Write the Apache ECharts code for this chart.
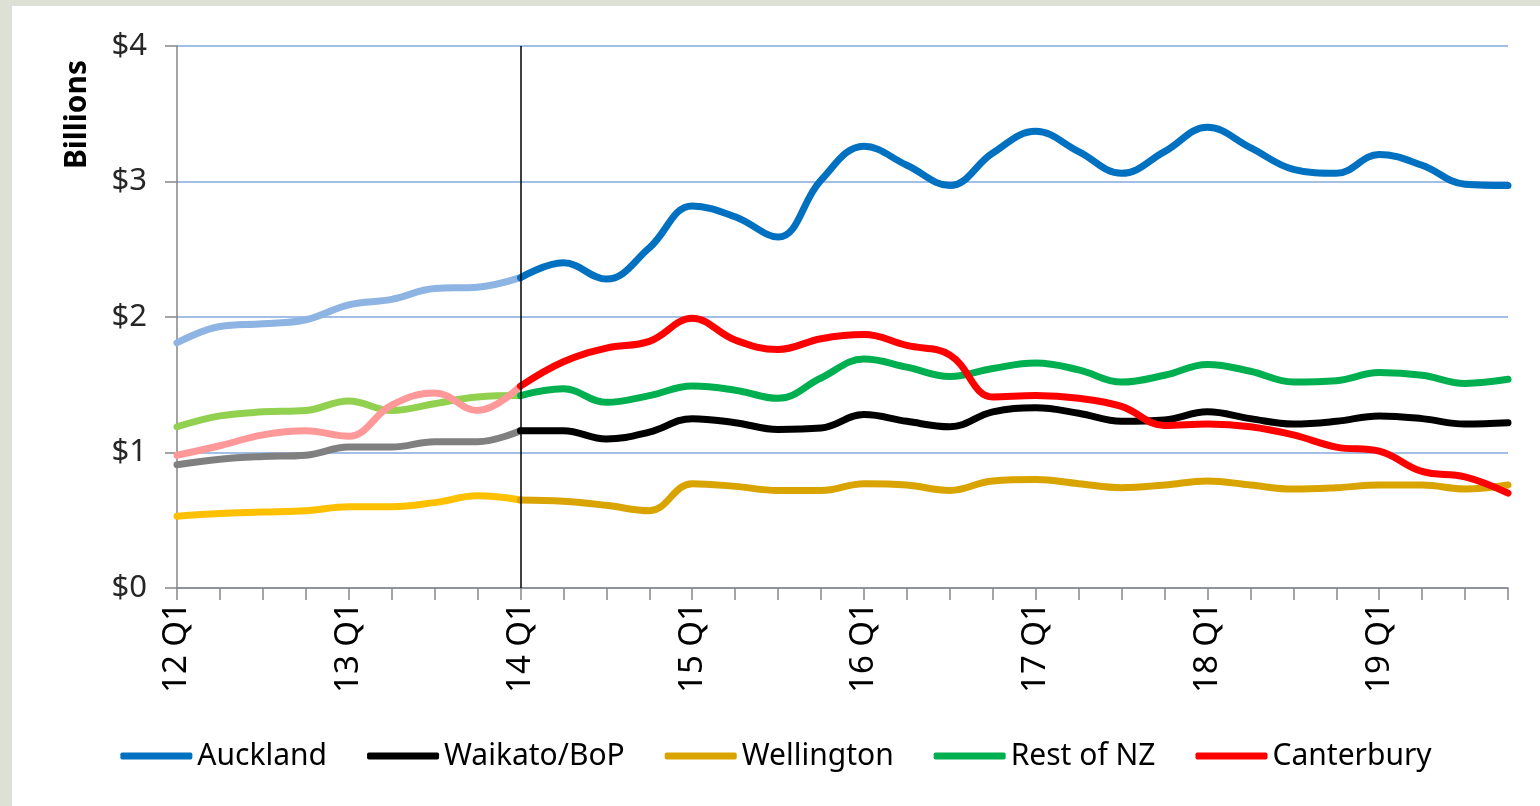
<!DOCTYPE html>
<html lang="en" style="height:100%">
  <head>
    <meta http-equiv="Content-Type" content="text/html; charset=utf-8">
    <title>regional chart</title>
    <script type="text/javascript" src="https://cdn.jsdelivr.net/npm/echarts@6/dist/echarts.min.js"></script>
    <style>
      html, body { margin:0; padding:0; height:100%; background:#dde0d4; overflow:hidden; }
      #chart { position:absolute; left:12px; top:6px; width:1528px; height:800px; background:#ffffff; }
    </style>
  </head>
  <body>
    <div id="chart"></div>
    <script type="text/javascript">
      //quarters on the x axis
      var quarters = ['12 Q1','12 Q2','12 Q3','12 Q4','13 Q1','13 Q2','13 Q3','13 Q4',
                      '14 Q1','14 Q2','14 Q3','14 Q4','15 Q1','15 Q2','15 Q3','15 Q4',
                      '16 Q1','16 Q2','16 Q3','16 Q4','17 Q1','17 Q2','17 Q3','17 Q4',
                      '18 Q1','18 Q2','18 Q3','18 Q4','19 Q1','19 Q2','19 Q3','19 Q4'];

      //values in billions
      var auckland   = [1.81,1.93,1.95,1.98,2.09,2.13,2.21,2.22,2.29,2.40,2.28,2.51,2.82,2.74,2.59,3.01,
                        3.26,3.12,2.97,3.21,3.37,3.22,3.06,3.22,3.40,3.25,3.09,3.06,3.20,3.12,2.98,2.97];
      var waikato    = [0.91,0.95,0.97,0.98,1.04,1.04,1.08,1.08,1.16,1.16,1.10,1.15,1.25,1.22,1.17,1.18,
                        1.28,1.23,1.19,1.30,1.33,1.29,1.23,1.24,1.30,1.25,1.21,1.23,1.27,1.25,1.21,1.22];
      var wellington = [0.53,0.55,0.56,0.57,0.60,0.60,0.63,0.68,0.65,0.64,0.61,0.57,0.77,0.75,0.72,0.72,
                        0.77,0.76,0.72,0.79,0.80,0.77,0.74,0.76,0.79,0.76,0.73,0.74,0.76,0.76,0.73,0.76];
      var restOfNZ   = [1.19,1.27,1.30,1.31,1.38,1.31,1.36,1.41,1.42,1.47,1.37,1.42,1.49,1.46,1.40,1.55,
                        1.69,1.63,1.56,1.62,1.66,1.61,1.52,1.57,1.65,1.60,1.52,1.53,1.59,1.57,1.51,1.54];
      var canterbury = [0.98,1.05,1.13,1.16,1.12,1.35,1.44,1.31,1.49,1.67,1.77,1.82,1.99,1.83,1.76,1.84,
                        1.87,1.79,1.72,1.41,1.42,1.40,1.34,1.20,1.21,1.19,1.13,1.04,1.01,0.86,0.82,0.70];

      var yTicks = ['$0','$1','$2','$3','$4'];
      var names = ['Auckland','Waikato/BoP','Wellington','Rest of NZ','Canterbury'];
      var values = [auckland, waikato, wellington, restOfNZ, canterbury];
      var COLORS = ['#0070c0','#000000','#d9a400','#00b050','#ff0000'];
      var FADED  = ['#8db4e2','#808080','#ffc000','#92d050','#ff9999'];

      //split point: history is faded up to 14 Q1
      var SPLIT = quarters.indexOf('14 Q1');
      var FONT = '"Noto Sans", sans-serif';

      var series = [];
      for(var i = 0; i < names.length; i++){
        var early = [], late = [];
        for(var j = 0; j < quarters.length; j++){
          early.push(j <= SPLIT ? values[i][j] : null);
          late.push(j >= SPLIT ? values[i][j] : null);
        }
        series.push({
          name: names[i] + ' (history)',
          type: 'line', smooth: 0.4, showSymbol: false, silent: true,
          data: early,
          lineStyle: { color: FADED[i], width: 7, cap: 'round' },
          itemStyle: { color: FADED[i] }
        });
        var s = {
          name: names[i],
          type: 'line', smooth: 0.4, showSymbol: false,
          data: late,
          lineStyle: { color: COLORS[i], width: 7, cap: 'round' },
          itemStyle: { color: COLORS[i] }
        };
        if(i === 0){
          s.markLine = {
            silent: true, symbol: 'none', label: { show: false },
            lineStyle: { color: '#000000', width: 1.5, type: 'solid' },
            data: [{ xAxis: SPLIT }]
          };
        }
        series.push(s);
      }

      var myChart = echarts.init(document.getElementById('chart'));
      var option = {
        animation: false,
        grid: { left: 165, right: 32, top: 40, bottom: 218 },
        legend: {
          data: names,
          bottom: 30, left: 'center',
          icon: 'roundRect', itemWidth: 72, itemHeight: 7, itemGap: 40,
          textStyle: { fontFamily: FONT, fontSize: 30, color: '#000000', padding: [0,0,0,0] }
        },
        graphic: [{
          type: 'text', left: 50, top: 54, rotation: Math.PI / 2,
          style: { text: 'Billions', font: 'bold 30px "Noto Sans", sans-serif', fill: '#000000' }
        }],
        xAxis: {
          type: 'category', data: quarters, boundaryGap: false,
          axisLine: { lineStyle: { color: '#868686', width: 1.5 } },
          axisTick: { show: true, interval: 0, length: 12, lineStyle: { color: '#868686', width: 1.5 } },
          axisLabel: { interval: 3, rotate: 90, margin: 14, fontFamily: FONT, fontSize: 33, color: '#000000' },
          splitLine: { show: false }
        },
        yAxis: {
          type: 'value', min: 0, max: 4, interval: 1,
          axisLine: { show: true, lineStyle: { color: '#868686', width: 1.5 } },
          axisTick: { show: true, length: 12, lineStyle: { color: '#868686', width: 1.5 } },
          axisLabel: { margin: 30, fontFamily: FONT, fontSize: 31, color: '#262626',
            formatter: function(v){ return yTicks[v]; } },
          splitLine: { lineStyle: { color: '#a4bfe6', width: 2 } }
        },
        series: series
      };
      myChart.setOption(option);
    </script>
  </body>
</html>
